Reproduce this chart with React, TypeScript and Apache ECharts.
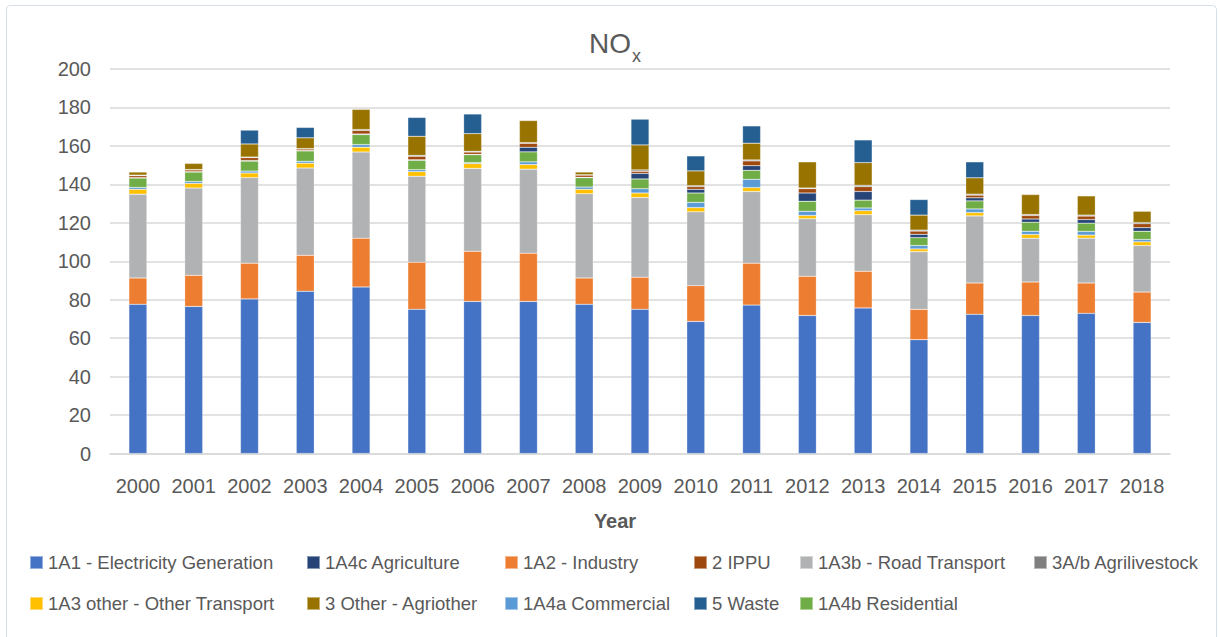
import { useEffect, useRef } from "react";
import * as echarts from "echarts";

// NOx emissions by source sector, 2000–2018
const years = [
  "2000", "2001", "2002", "2003", "2004", "2005", "2006", "2007", "2008", "2009",
  "2010", "2011", "2012", "2013", "2014", "2015", "2016", "2017", "2018",
];

const electricity = [77.6, 76.5, 80.4, 84.4, 86.6, 75.0, 79.1, 79.1, 77.6, 75.0, 68.7, 77.2, 71.8, 75.7, 59.2, 72.4, 71.8, 72.9, 68.2];
const industry = [13.7, 16.2, 18.6, 18.7, 25.4, 24.5, 26.1, 25.1, 13.7, 16.7, 18.6, 21.8, 20.4, 19.1, 15.8, 16.3, 17.4, 15.8, 15.8];
const roadTransport = [43.6, 45.4, 44.5, 45.4, 44.8, 44.7, 43.1, 43.7, 43.8, 41.5, 38.4, 37.3, 29.9, 29.4, 30.0, 34.9, 22.8, 23.3, 24.2];
const otherTransport = [2.5, 2.4, 2.4, 2.5, 2.5, 2.4, 2.5, 2.4, 2.3, 2.3, 2.2, 2.0, 1.7, 2.1, 1.4, 1.7, 1.9, 1.6, 1.9];
const commercial = [1.0, 1.0, 1.0, 1.0, 1.4, 1.0, 0.5, 1.4, 1.2, 2.2, 2.7, 4.3, 2.2, 1.4, 1.8, 1.9, 1.7, 1.9, 1.2];
const residential = [4.9, 4.9, 5.2, 5.4, 5.2, 4.9, 4.1, 5.2, 4.9, 5.1, 4.9, 4.7, 5.2, 4.1, 4.1, 4.2, 4.7, 4.3, 4.3];
const agriculture = [0.2, 0.2, 0.3, 0.2, 0.3, 0.3, 0.2, 2.4, 0.2, 2.9, 1.9, 2.4, 4.3, 4.5, 1.7, 1.6, 1.7, 1.9, 1.9];
const ippu = [1.0, 0.9, 1.5, 0.8, 1.8, 1.8, 1.2, 2.0, 1.1, 1.1, 1.4, 2.5, 2.2, 2.5, 1.7, 1.4, 1.8, 1.8, 2.0];
const agrilivestock = [0.3, 0.2, 0.3, 0.2, 0.5, 0.5, 0.4, 0.4, 0.2, 0.7, 0.5, 0.5, 0.4, 0.7, 0.5, 0.5, 0.5, 0.5, 0.6];
const agriother = [1.6, 3.2, 6.8, 5.6, 10.5, 9.9, 9.2, 11.5, 1.4, 13.0, 7.7, 8.7, 13.6, 11.8, 7.8, 8.5, 10.4, 10.0, 5.9];
const waste = [0, 0, 7.2, 5.4, 0, 9.8, 10.2, 0, 0, 13.4, 7.8, 9.0, 0, 11.8, 8.1, 8.3, 0, 0, 0];

const yTicks = { min: 0, max: 200, interval: 20 };

// stacking order, bottom to top
const sectors = [
  { name: "1A1 - Electricity Generation", data: electricity, color: "#4472C4" },
  { name: "1A2 - Industry", data: industry, color: "#ED7D31" },
  { name: "1A3b - Road Transport", data: roadTransport, color: "#B1B2B3" },
  { name: "1A3 other - Other Transport", data: otherTransport, color: "#FFC000" },
  { name: "1A4a Commercial", data: commercial, color: "#5B9BD5" },
  { name: "1A4b Residential", data: residential, color: "#70AD47" },
  { name: "1A4c Agriculture", data: agriculture, color: "#264478" },
  { name: "2 IPPU", data: ippu, color: "#9E480E" },
  { name: "3A/b Agrilivestock", data: agrilivestock, color: "#7F7F7F" },
  { name: "3 Other - Agriother", data: agriother, color: "#997300" },
  { name: "5 Waste", data: waste, color: "#255E91" },
];

// legend entries laid out in two rows, six columns
const legendRows = [
  ["1A1 - Electricity Generation", "1A4c Agriculture", "1A2 - Industry", "2 IPPU", "1A3b - Road Transport", "3A/b Agrilivestock"],
  ["1A3 other - Other Transport", "3 Other - Agriother", "1A4a Commercial", "5 Waste", "1A4b Residential"],
];
const legendColumnX = [29, 306, 504, 693, 799, 1033];
const legendRowTop = [553, 594];

const FONT = '"Liberation Sans", Arial, Helvetica, sans-serif';
const TEXT = "#595959";
const GRID_LINE = "#D9D9D9";

export default function App() {
  const ref = useRef<HTMLDivElement>(null);

  useEffect(() => {
    if (!ref.current) return;
    const chart = echarts.init(ref.current, undefined, { renderer: "svg" });

    const legends: any[] = [];
    legendRows.forEach((row, r) => {
      row.forEach((name, c) => {
        legends.push({
          data: [name],
          left: legendColumnX[c],
          top: legendRowTop[r],
          padding: 0,
          icon: "rect",
          itemWidth: 13,
          itemHeight: 13,
          textStyle: { fontSize: 18.5, color: TEXT, fontFamily: FONT },
        });
      });
    });

    chart.setOption({
      animation: false,
      textStyle: { fontFamily: FONT },
      grid: { left: 110, right: 50, top: 69, bottom: 183.5, containLabel: false },
      legend: legends,
      xAxis: {
        type: "category",
        data: years,
        axisLine: { show: true, lineStyle: { color: GRID_LINE, width: 1.5 } },
        axisTick: { show: false },
        axisLabel: { fontSize: 20, color: TEXT, margin: 22, interval: 0 },
      },
      yAxis: {
        type: "value",
        min: yTicks.min,
        max: yTicks.max,
        interval: yTicks.interval,
        axisLine: { show: false },
        axisTick: { show: false },
        axisLabel: { fontSize: 20, color: TEXT, margin: 19 },
        splitLine: { lineStyle: { color: GRID_LINE, width: 1.5 } },
      },
      series: sectors.map((s) => ({
        name: s.name,
        type: "bar",
        stack: "total",
        barWidth: 18,
        data: s.data.map((v) => (v === 0 ? null : v)),
        itemStyle: {
          color: s.color,
          borderColor: "rgba(255,255,255,0.45)",
          borderWidth: 0.5,
        },
      })),
      graphic: [
        {
          type: "rect",
          silent: true,
          shape: { x: 6.5, y: 5.5, width: 1210, height: 660, r: 4 },
          style: { fill: "none", stroke: "#D6DEE8", lineWidth: 1 },
        },
        {
          type: "text",
          silent: true,
          x: 631,
          y: 43,
          style: {
            text: "NO",
            font: `28px ${FONT}`,
            fill: TEXT,
            textAlign: "right",
            textVerticalAlign: "middle",
          },
        },
        {
          type: "text",
          silent: true,
          x: 632,
          y: 56,
          style: {
            text: "x",
            font: `18px ${FONT}`,
            fill: TEXT,
            textAlign: "left",
            textVerticalAlign: "middle",
          },
        },
        {
          type: "text",
          silent: true,
          x: 615,
          y: 521,
          style: {
            text: "Year",
            font: `bold 20px ${FONT}`,
            fill: TEXT,
            textAlign: "center",
            textVerticalAlign: "middle",
          },
        },
      ],
    });

    return () => chart.dispose();
  }, []);

  return (
    <div
      ref={ref}
      style={{ position: "fixed", left: 0, top: 0, width: 1220, height: 637, background: "#fff" }}
    />
  );
}
